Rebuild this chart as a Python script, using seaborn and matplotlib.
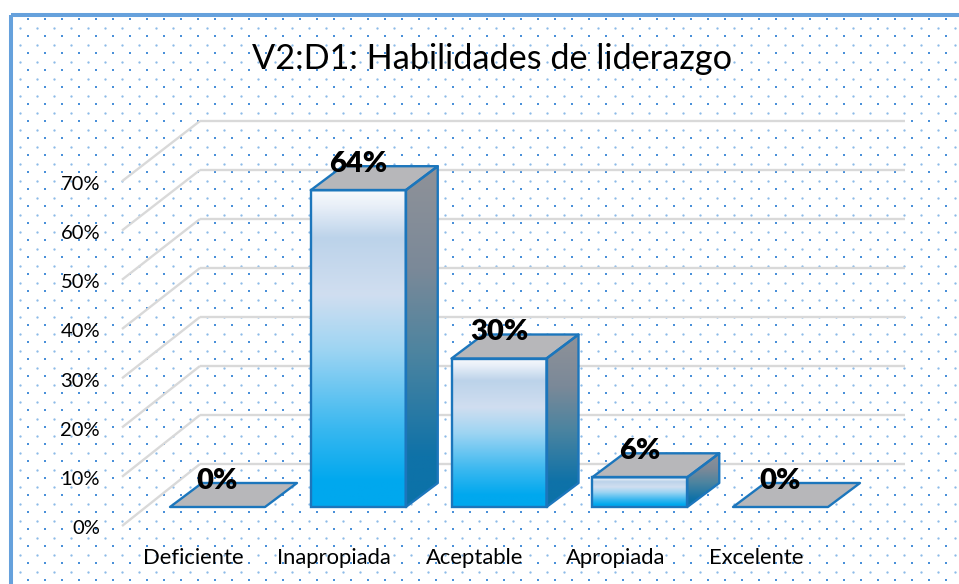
import numpy as np
import pandas as pd
import matplotlib
matplotlib.use("Agg")
import matplotlib.pyplot as plt
from matplotlib.colors import LinearSegmentedColormap
from matplotlib.patches import Polygon, Rectangle
import seaborn as sns

categories = ["Deficiente", "Inapropiada", "Aceptable", "Apropiada", "Excelente"]
values = [0, 64, 30, 6, 0]
y_levels = [0, 10, 20, 30, 40, 50, 60, 70]
title = "V2:D1: Habilidades de liderazgo"

W, H = 959, 584
L, R, B, T = 107, 945, 545, 100       # main axes box, pixels
X0_PX, X_STEP = 217.5, 140.75          # first category centre, px per category
Y0_PX, Y_STEP = 507.0, 4.95            # zero line, px per percent
DX, DY = 32 / X_STEP, 24 / Y_STEP      # bar depth in data units

sns.set_theme(style="white")
plt.rcParams["font.family"] = ["Lato", "DejaVu Sans"]

fig = plt.figure(figsize=(W / 100, H / 100), dpi=100, facecolor="white")

# background: dotted fill and frame, in pixel coordinates
bg = fig.add_axes([0, 0, 1, 1], zorder=0)
bg.set_xlim(0, W)
bg.set_ylim(H, 0)
bg.axis("off")
frame_l, frame_t = 11, 15
rows_dark = np.arange(19, H, 17.0)
cols_dark = np.arange(28, W, 17.0)
rows_light = np.arange(27.5, H, 17.0)
cols_light = np.arange(19.5, W, 17.0)
xd, yd = np.meshgrid(cols_dark, rows_dark)
xl, yl = np.meshgrid(cols_light, rows_light)
bg.scatter(xd.ravel(), yd.ravel(), s=2.2, c="#4a90d9", linewidths=0, marker="s")
bg.scatter(xl.ravel(), yl.ravel(), s=2.8, c="#8dbbe8", linewidths=0)
bg.add_patch(Rectangle((frame_l, frame_t), W + 20, H + 20,
                       fill=False, ec="#66a1dc", lw=2.9))

# main axes
ax = fig.add_axes([L / W, 1 - B / H, (R - L) / W, (B - T) / H], zorder=1)
ax.patch.set_alpha(0)
df = pd.DataFrame({"cat": categories, "val": values})
sns.barplot(data=df, x="cat", y="val", ax=ax, width=95 / X_STEP,
            color="#00b0f0", saturation=1, zorder=3)

xlim = ((L - X0_PX) / X_STEP, (R - X0_PX) / X_STEP)
ylim = ((Y0_PX - B) / Y_STEP, (Y0_PX - T) / Y_STEP)

# walls: grid in the back plane and its diagonals
back_x0 = (200 - X0_PX) / X_STEP
back_x1 = (905 - X0_PX) / X_STEP
front_x = (122 - X0_PX) / X_STEP
front_off = (Y0_PX - 526) / Y_STEP
back_off = (Y0_PX - 464) / Y_STEP
grid_kw = dict(color="#d9d9d9", lw=1.7, zorder=1, solid_capstyle="butt")
for v in y_levels:
    yb = v * 0.99 + back_off
    ax.plot([back_x0, back_x1], [yb, yb], **grid_kw)
    ax.plot([front_x, back_x0], [v * 0.995 + front_off, yb], **grid_kw)

front_cmap = LinearSegmentedColormap.from_list(
    "front", [(0, "#00a8ee"), (0.08, "#00a8ee"), (0.25, "#3ab8f0"),
              (0.5, "#9fd5f3"), (0.67, "#d0def0"), (0.85, "#bcd3ea"),
              (0.95, "#e8eff8"), (1, "#f8fafd")])
side_cmap = LinearSegmentedColormap.from_list(
    "side", [(0, "#0b72a8"), (0.15, "#0f72a8"), (0.45, "#4c84a0"),
             (0.7, "#7b8998"), (1, "#8f9299")])
edge = "#1c76bc"
grad = np.linspace(1, 0, 256).reshape(-1, 1)

for bar, v in zip(list(ax.patches), values):
    x0, x1 = bar.get_x(), bar.get_x() + bar.get_width()
    h = bar.get_height()
    top = Polygon([(x0, h), (x1, h), (x1 + DX, h + DY), (x0 + DX, h + DY)],
                  closed=True, fc="#b7b7ba", ec=edge, lw=1.7, zorder=4,
                  joinstyle="round")
    ax.add_patch(top)
    if h > 0:
        side = Polygon([(x1, 0), (x1 + DX, DY), (x1 + DX, h + DY), (x1, h)],
                       closed=True, fc="none", ec=edge, lw=1.7, zorder=5,
                       joinstyle="round")
        ax.add_patch(side)
        im = ax.imshow(grad, extent=[x1, x1 + DX, 0, h + DY], aspect="auto",
                       cmap=side_cmap, vmin=0, vmax=1, zorder=3.5)
        im.set_clip_path(side)
        im = ax.imshow(grad, extent=[x0, x1, 0, h], aspect="auto",
                       cmap=front_cmap, vmin=0, vmax=1, zorder=3.5)
        im.set_clip_path(bar)
        bar.set_facecolor("none")
        bar.set_edgecolor(edge)
        bar.set_linewidth(1.7)
        bar.set_zorder(5)
    else:
        bar.set_visible(False)
    ax.annotate(f"{v}%", (bar.get_x() + bar.get_width() / 2, h), xytext=(0, 19),
                textcoords="offset points", ha="center", va="center",
                fontsize=21, fontweight="heavy", color="black", zorder=6)

ax.set_xlim(*xlim)
ax.set_ylim(*ylim)
ax.set_aspect("auto")
ax.set_yticks([v * 0.995 + front_off - 0.3 for v in y_levels], [f"{v}%" for v in y_levels])
ax.set_xticks(np.arange(len(categories)) - 0.172, categories)
ax.set_xlabel("")
ax.set_ylabel("")
ax.tick_params(axis="x", length=0, labelsize=15.8, colors="black", pad=2)
ax.tick_params(axis="y", length=0, labelsize=14.5, colors="black", pad=5)
ax.grid(False)
sns.despine(ax=ax, left=True, bottom=True)

fig.text(492 / W, 1 - 59 / H, title, ha="center", va="center", fontsize=24.7, color="black")

fig.savefig("out.png", dpi=100)
